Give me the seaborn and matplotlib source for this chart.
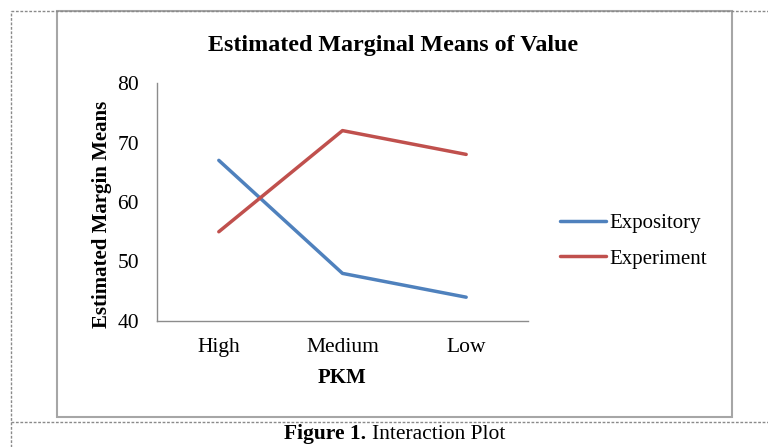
import pandas as pd
import matplotlib.pyplot as plt
import seaborn as sns
from matplotlib.patches import Rectangle
from matplotlib.lines import Line2D

# values
pkm_levels = ['High', 'Medium', 'Low']
expository = [67, 48, 44]
experiment = [55, 72, 68]
groups = ['Expository', 'Experiment']
colors = ['#4F81BD', '#C0504D']

data = pd.DataFrame({
    'PKM': pkm_levels * 2,
    'Value': expository + experiment,
    'Method': [groups[0]] * 3 + [groups[1]] * 3,
})

sns.set_style('white')
plt.rcParams['font.family'] = ['Liberation Serif', 'DejaVu Serif']
plt.rcParams['text.color'] = 'black'
plt.rcParams['axes.labelcolor'] = 'black'

fig = plt.figure(figsize=(7.68, 4.47), dpi=100)
ax = fig.add_axes([0.2044, 0.2819, 0.4831, 0.5324])

sns.lineplot(data=data, x='PKM', y='Value', hue='Method', palette=colors,
             linewidth=2.5, ax=ax, sort=False)

ax.set_xlim(-0.5, 2.5)
ax.set_ylim(40, 80)
ax.set_yticks([40, 50, 60, 70, 80])
ax.tick_params(axis='both', length=0, labelsize=15.5, colors='black')
ax.tick_params(axis='y', pad=13)
ax.tick_params(axis='x', pad=12)
for s in ['top', 'right']:
    ax.spines[s].set_visible(False)
for s in ['left', 'bottom']:
    ax.spines[s].set_color('#8c8c8c')
    ax.spines[s].set_linewidth(1.0)

ax.set_xlabel('PKM', fontsize=15, fontweight='bold')
ax.set_ylabel('Estimated Margin Means', fontsize=15, fontweight='bold')
ax.xaxis.set_label_coords(0.5, -0.197)
ax.yaxis.set_label_coords(-0.12, 0.45)

ax.legend(loc='center left', bbox_to_anchor=(0.729, 0.4608),
          bbox_transform=fig.transFigure, frameon=False, fontsize=15,
          handlelength=2.2, handletextpad=0.2, labelspacing=0.78,
          borderpad=0, borderaxespad=0)

fig.text(0.512, 0.899, 'Estimated Marginal Means of Value', ha='center',
         va='center', fontsize=17.3, fontweight='bold')

# chart frame and page borders
fig.add_artist(Rectangle((0.0742, 0.0671), 0.8789, 0.9083, transform=fig.transFigure,
                         fill=False, edgecolor='#a6a6a6', linewidth=1.5))
dash = dict(color='#8a8a8a', linewidth=1.0, linestyle=(0, (2, 1.2)), transform=fig.transFigure)
fig.add_artist(Line2D([0.0143, 1.0], [0.9754, 0.9754], **dash))
fig.add_artist(Line2D([0.0143, 0.0143], [0.0, 0.9754], **dash))
fig.add_artist(Line2D([0.0143, 1.0], [0.0559, 0.0559], **dash))

fig.text(0.4766, 0.017, 'Figure 1.', ha='right', va='baseline', fontsize=15.5, fontweight='bold')
fig.text(0.484, 0.017, 'Interaction Plot', ha='left', va='baseline', fontsize=15.5)

fig.savefig('out.png', dpi=100)
